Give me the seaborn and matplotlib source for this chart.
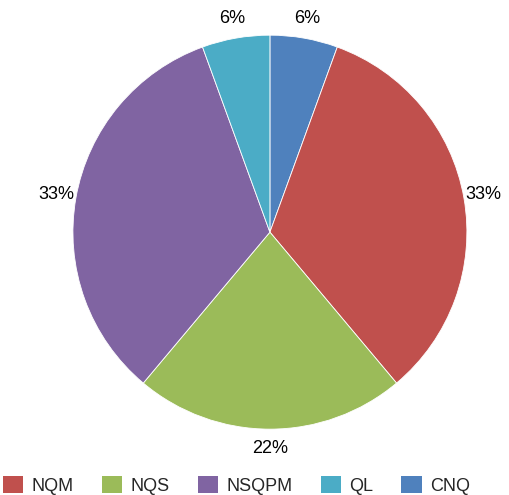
import matplotlib
matplotlib.use("Agg")
import numpy as np
import matplotlib.pyplot as plt
from matplotlib.patches import Patch
import seaborn as sns

# --- Data ---
categories = ['CNQ', 'NQM', 'NQS', 'NSQPM', 'QL']
counts = [1, 6, 4, 6, 1]
legend_order = ['NQM', 'NQS', 'NSQPM', 'QL', 'CNQ']
colors = {'CNQ': '#4F81BD', 'NQM': '#C0504D', 'NQS': '#9BBB59',
          'NSQPM': '#8064A2', 'QL': '#4BACC6'}

sns.set_theme(style='white')
plt.rcParams['font.family'] = ['Liberation Sans', 'DejaVu Sans']

palette = sns.color_palette([colors[c] for c in categories])

fig = plt.figure(figsize=(5.10, 4.95), dpi=100)
ax = fig.add_axes([0.143, 0.133, 0.7725, 0.796])

wedges, texts = ax.pie(counts, colors=palette, startangle=90, counterclock=False,
                       wedgeprops=dict(edgecolor='white', linewidth=0.6))

# percent labels just outside each slice
total = sum(counts)
for w, v in zip(wedges, counts):
    mid = np.deg2rad((w.theta1 + w.theta2) / 2)
    r = 1.1
    ax.text(r * np.cos(mid), r * np.sin(mid), f"{round(100 * v / total)}%",
            ha='center', va='center', fontsize=13, color='black')
ax.set_aspect('equal')
ax.set_xlim(-1, 1)
ax.set_ylim(-1, 1)

handles = [Patch(facecolor=colors[c], edgecolor='none') for c in legend_order]
fig.legend(handles, legend_order, loc='center left', bbox_to_anchor=(0.005, 0.02),
           ncol=5, frameon=False, fontsize=13, handlelength=1.15, handleheight=1.15,
           handletextpad=0.45, columnspacing=1.55, borderpad=0, borderaxespad=0)

fig.savefig('out.png', dpi=100)
